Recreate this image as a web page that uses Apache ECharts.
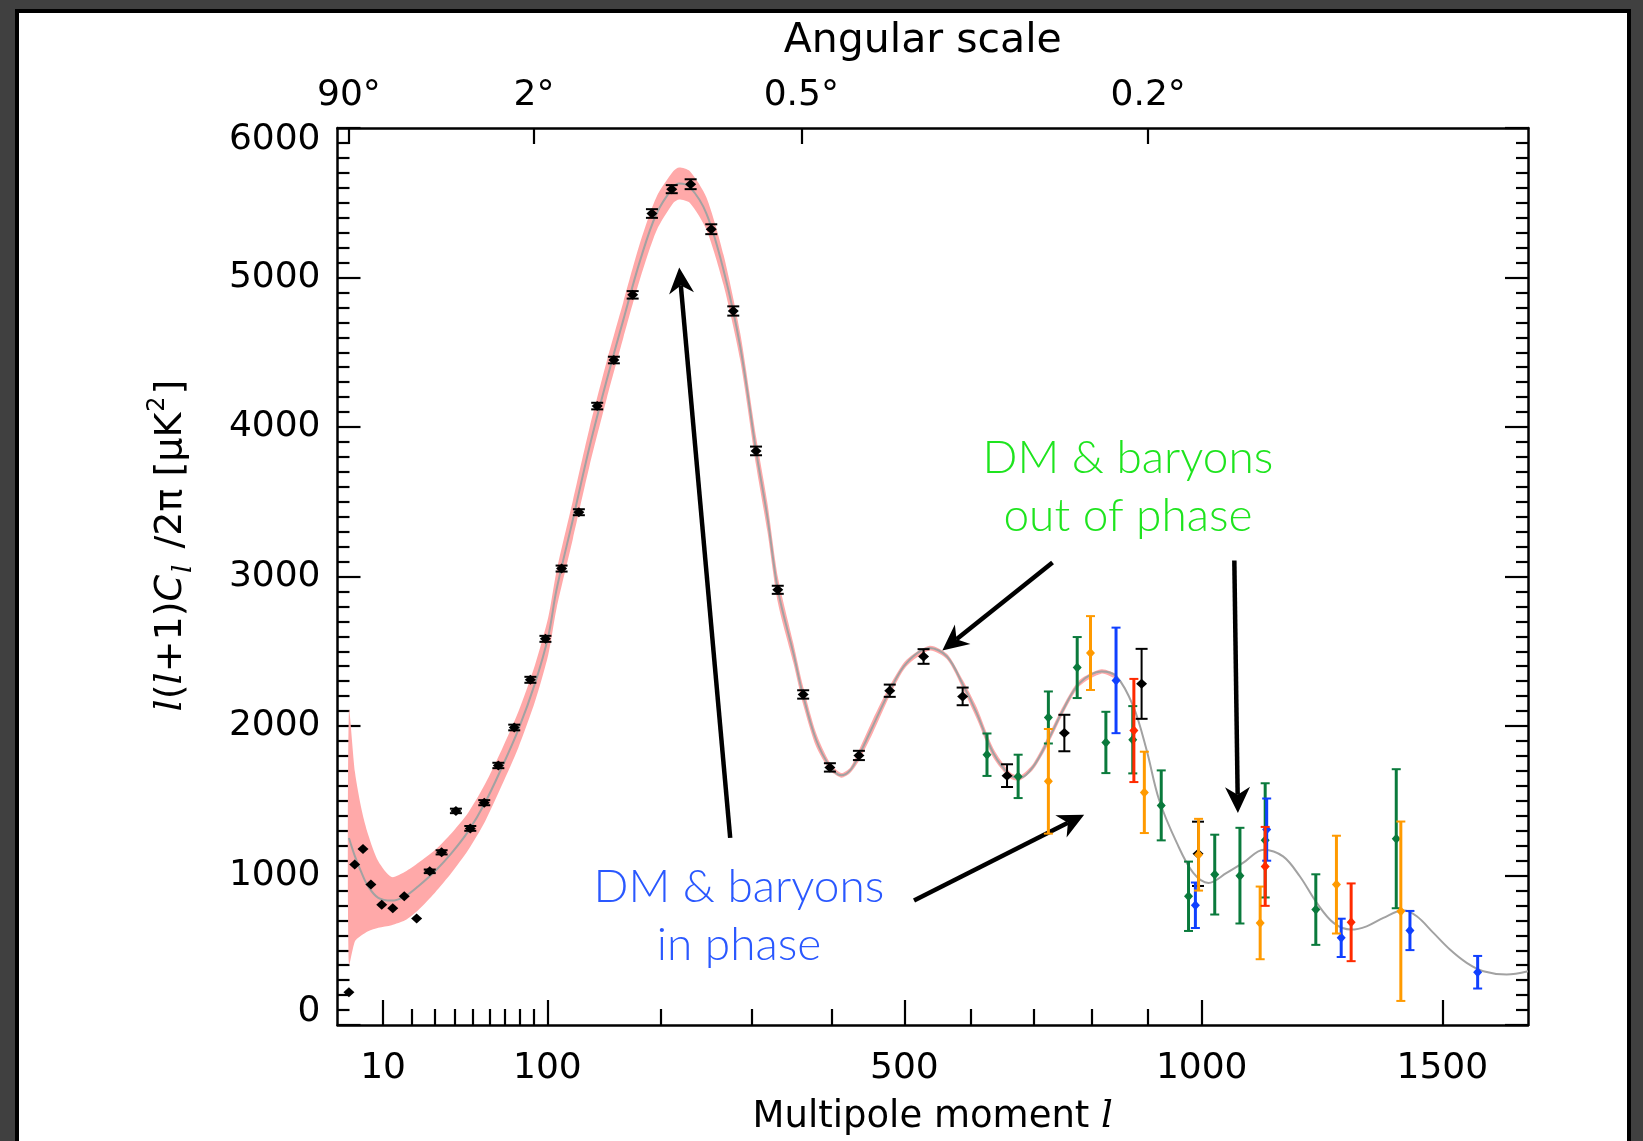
<!DOCTYPE html>
<html>
<head>
<meta charset="utf-8">
<script src="https://cdn.jsdelivr.net/npm/echarts@6/dist/echarts.min.js"></script>
<style>
  html, body { margin: 0; padding: 0; width: 1643px; height: 1141px; overflow: hidden; background: #404040; }
  #frame { position: absolute; left: 15px; top: 9px; width: 1616px; height: 1160px; background: #fff;
           border: 4px solid #000; box-sizing: border-box; }
  #chart { position: absolute; left: 0; top: 0; width: 1643px; height: 1141px; }
</style>
</head>
<body>
<div id="frame"></div>
<div id="chart"></div>
<script>
// Multipole axis is drawn on an l^0.6 stretch: x = l^P
const P = 0.6;
const xs = l => Math.pow(l, P);
const L_MIN = 0.54, L_MAX = 1697;

// Tick marks
const xMajorTicks = [10, 100, 500, 1000, 1500];
const xMinorTicks = [20, 30, 40, 50, 60, 70, 80, 90, 200, 300, 400, 600, 700, 800, 900];
const angleTickL = [2, 90, 360, 900];
const angleTickLabels = ['90°', '2°', '0.5°', '0.2°'];

// Best-fit model spectrum
const modelL = [2, 3.05, 4.4, 5.9, 8.6, 12.7, 17.5, 22.8, 30.2, 38.5, 47.4, 57.2, 67.7, 78.9, 90.8,
  100.6, 107, 120, 134, 149, 164, 180, 196, 213, 219, 230, 248, 267, 286, 305, 318, 331, 350, 362,
  379, 397, 412, 424, 436, 455, 479, 503, 537, 563, 587, 609, 635, 662, 678, 700, 725, 750, 778,
  816, 843, 873, 897, 920, 953, 984, 1013, 1048, 1080, 1121, 1160, 1194, 1229, 1264, 1301, 1334,
  1370, 1413, 1443, 1480, 1517, 1555, 1593, 1647, 1697];
const modelV = [1251, 1128, 1017, 928, 850, 832, 861, 928, 1028, 1151, 1295, 1485, 1719, 1975, 2287,
  2599, 2911, 3378, 3868, 4314, 4715, 5116, 5428, 5606, 5629, 5606, 5428, 5049, 4537, 3824, 3400, 2906, 2488, 2211,
  1908, 1730, 1670, 1703, 1803, 1997, 2236, 2421, 2521, 2465, 2280, 2085, 1819, 1670, 1652, 1730, 1908, 2109, 2287,
  2365, 2331, 2131, 1841, 1507, 1218, 1017, 950, 1017, 1084, 1173, 1128, 995, 817, 683, 638, 660,
  716, 767, 727, 616, 505, 416, 360, 338, 360];

// 1-sigma model band
const bandL = [2, 3.05, 4.4, 5.9, 8.6, 12.7, 17.5, 22.8, 30.2, 38.5, 47.4, 57.2, 67.7, 78.9, 90.8,
  100.6, 107, 120, 134, 149, 164, 180, 196, 213, 219, 230, 248, 267, 286, 305, 318, 331, 350, 362,
  379, 397, 412, 424, 436, 455, 479, 503, 537, 563, 587, 609, 635, 662, 678, 700, 725, 750, 778, 816, 843];
const bandLo = [404, 560, 600, 627, 650, 668, 700, 770, 885, 1020, 1170, 1360, 1600, 1855, 2165,
  2475, 2785, 3250, 3740, 4190, 4595, 4995, 5315, 5500, 5522, 5500, 5320, 4950, 4447, 3729, 3305, 2821, 2423, 2151,
  1863, 1705, 1654, 1685, 1768, 1952, 2203, 2399, 2505, 2447, 2251, 2047, 1787, 1650, 1636, 1710, 1880, 2083, 2267, 2350, 2316];
const bandHi = [2109, 1690, 1440, 1275, 1095, 990, 1025, 1085, 1170, 1285, 1420, 1610, 1840, 2095, 2410,
  2725, 3035, 3505, 3995, 4440, 4835, 5235, 5540, 5712, 5736, 5712, 5535, 5150, 4627, 3919, 3495, 2991, 2553, 2271,
  1953, 1755, 1686, 1721, 1838, 2042, 2269, 2443, 2537, 2483, 2309, 2123, 1851, 1690, 1668, 1750, 1936, 2135, 2307, 2380, 2346];

// WMAP binned spectrum
const wmapL = [2, 3, 4.7, 6.6, 9.6, 13.1, 17.2, 22.1, 27.8, 33.4, 40.7, 48.6, 56.8, 65.6, 76.1, 87.4,
  98.5, 111, 125, 140.6, 155.4, 172.8, 191.4, 211.3, 231, 253.3, 278, 304.5, 330.7, 362.4, 397, 436,
  479, 528, 587, 657, 752, 888, 993];
const wmapV = [219, 1073, 1178, 939, 805, 781, 861, 712, 1028, 1155, 1432, 1315, 1487, 1736, 1990, 2309,
  2583, 3053, 3430, 4140, 4448, 4884, 5428, 5591, 5624, 5323, 4776, 3840, 2911, 2211, 1723, 1803,
  2236, 2465, 2198, 1668, 1953, 2282, 1145];
const wmapErr = [0, 0, 0, 0, 0, 0, 0, 0, 12, 14, 15, 16, 17, 18, 19, 20,
  20, 20, 20, 22, 22, 25, 29, 27, 33, 33, 31, 29, 27, 28, 28, 31,
  41, 49, 59, 76, 122, 234, 215];

// Small-scale experiments
const greenL = [625, 675, 725, 774, 824, 872, 924, 975, 1025, 1074, 1124, 1227, 1398];
const greenV = [1808, 1663, 2057, 2391, 1890, 1908, 1469, 861, 1006, 999, 1235, 772, 1246];
const greenErr = [142, 145, 174, 204, 205, 225, 234, 232, 267, 320, 382, 236, 465];

const blueL = [842, 988, 1127, 1280, 1428, 1580];
const blueV = [2305, 801, 1307, 583, 632, 353];
const blueErr = [353, 152, 208, 128, 131, 109];

const orangeL = [725, 797, 893, 994, 1114, 1270, 1408];
const orangeV = [1630, 2488, 1556, 1139, 683, 939, 761];
const orangeErr = [350, 247, 272, 240, 243, 327, 600];

const redL = [874, 1124, 1301];
const redV = [1970, 1061, 687];
const redErr = [345, 264, 260];

// Annotation arrows (tail -> head)
const arrowFromL = [274.5, 732, 514, 1063];
const arrowFromV = [1252, 3093, 832, 3107];
const arrowToL = [219, 556, 786, 1070];
const arrowToV = [5067, 2505, 1407, 1418];

const FONT = 'DejaVu Sans';
const SERIF = 'DejaVu Serif';
const NOTE_FONT = '300 46px Lato, "Open Sans", sans-serif';

function nearestIndex(arr, v) {
  let best = 0;
  for (let i = 1; i < arr.length; i++) if (Math.abs(arr[i] - v) < Math.abs(arr[best] - v)) best = i;
  return best;
}

function pointsRenderer(o) {
  return function (params, api) {
    const x = api.value(0), v = api.value(1), e = api.value(2);
    const c = api.coord([x, v]);
    const kids = [];
    if (e > 0) {
      const t = api.coord([x, v + e]), b = api.coord([x, v - e]);
      const st = { stroke: o.color, lineWidth: o.barWidth };
      const sc = { stroke: o.color, lineWidth: o.capWidth };
      kids.push({ type: 'line', shape: { x1: c[0], y1: t[1], x2: c[0], y2: b[1] }, style: st });
      kids.push({ type: 'line', shape: { x1: c[0] - o.cap, y1: t[1], x2: c[0] + o.cap, y2: t[1] }, style: sc });
      kids.push({ type: 'line', shape: { x1: c[0] - o.cap, y1: b[1], x2: c[0] + o.cap, y2: b[1] }, style: sc });
    }
    kids.push({ type: 'polygon',
      shape: { points: [[c[0], c[1] - o.dh], [c[0] + o.dw, c[1]], [c[0], c[1] + o.dh], [c[0] - o.dw, c[1]]] },
      style: { fill: o.color } });
    return { type: 'group', children: kids };
  };
}

function pointSeries(L, V, E, o, z) {
  return {
    type: 'custom', z: z, silent: true, clip: false,
    renderItem: pointsRenderer(o),
    encode: { x: 0, y: 1 },
    data: L.map((l, i) => [xs(l), V[i], E[i]])
  };
}

const bandSeries = {
  type: 'custom', z: 1, silent: true,
  encode: { x: 0, y: 1 },
  data: [[xs(bandL[0]), bandLo[0]]],
  renderItem: function (params, api) {
    const pts = [];
    for (let i = 0; i < bandL.length; i++) pts.push(api.coord([xs(bandL[i]), bandHi[i]]));
    for (let i = bandL.length - 1; i >= 0; i--) pts.push(api.coord([xs(bandL[i]), bandLo[i]]));
    return { type: 'polygon', shape: { points: pts, smooth: 0.25 }, style: { fill: '#ffa9a9' } };
  }
};

const arrowSeries = {
  type: 'custom', z: 4, silent: true, clip: false,
  encode: { x: [0, 2], y: [1, 3] },
  data: arrowFromL.map((l, i) => [xs(l), arrowFromV[i], xs(arrowToL[i]), arrowToV[i]]),
  renderItem: function (params, api) {
    const a = api.coord([api.value(0), api.value(1)]);
    const b = api.coord([api.value(2), api.value(3)]);
    const dx = b[0] - a[0], dy = b[1] - a[1];
    const len = Math.sqrt(dx * dx + dy * dy);
    const ux = dx / len, uy = dy / len, px = -uy, py = ux;
    const H = 26, W = 12.5, N = 0.7 * H;
    const back = [b[0] - ux * H, b[1] - uy * H];
    const notch = [b[0] - ux * N, b[1] - uy * N];
    return { type: 'group', children: [
      { type: 'line', shape: { x1: a[0], y1: a[1], x2: notch[0], y2: notch[1] },
        style: { stroke: '#000', lineWidth: 4.5 } },
      { type: 'polygon', shape: { points: [b, [back[0] + px * W, back[1] + py * W], notch,
        [back[0] - px * W, back[1] - py * W]] }, style: { fill: '#000' } }
    ] };
  }
};

const labelStyle = { fontFamily: FONT, fontSize: 36, color: '#000' };

const option = {
  animation: false,
  backgroundColor: 'transparent',
  grid: { left: 337.5, right: 115, top: 128, bottom: 115.5, containLabel: false },
  xAxis: [
    {
      type: 'value', position: 'bottom', min: xs(L_MIN), max: xs(L_MAX),
      axisLine: { show: true, onZero: false, lineStyle: { color: '#000', width: 2.5 } },
      axisTick: { show: true, inside: true, length: 25, customValues: xMajorTicks.map(xs),
        lineStyle: { color: '#000', width: 2.2 } },
      axisLabel: Object.assign({ show: true, margin: 26, customValues: xMajorTicks.map(xs),
        formatter: v => String(xMajorTicks[nearestIndex(xMajorTicks.map(xs), v)]) }, labelStyle),
      splitLine: { show: false },
      name: 'Multipole moment {i|l}', nameLocation: 'middle', nameGap: 74,
      nameTextStyle: { fontFamily: FONT, fontSize: 37, color: '#000',
        rich: { i: { fontFamily: SERIF, fontStyle: 'italic', fontSize: 37, color: '#000' } } }
    },
    {
      type: 'value', position: 'bottom', min: xs(L_MIN), max: xs(L_MAX),
      axisLine: { show: false },
      axisTick: { show: true, inside: true, length: 16, customValues: xMinorTicks.map(xs),
        lineStyle: { color: '#000', width: 2.2 } },
      axisLabel: { show: false }, splitLine: { show: false }
    },
    {
      type: 'value', position: 'top', min: xs(L_MIN), max: xs(L_MAX),
      axisLine: { show: true, onZero: false, lineStyle: { color: '#000', width: 2.5 } },
      axisTick: { show: true, inside: true, length: 16, customValues: angleTickL.map(xs),
        lineStyle: { color: '#000', width: 2.2 } },
      axisLabel: Object.assign({ show: true, margin: 14, customValues: angleTickL.map(xs),
        formatter: v => angleTickLabels[nearestIndex(angleTickL.map(xs), v)] }, labelStyle),
      splitLine: { show: false },
      name: 'Angular scale', nameLocation: 'middle', nameGap: 66,
      nameTextStyle: { fontFamily: FONT, fontSize: 41, color: '#000', padding: [0, 20, 0, 0] }
    }
  ],
  yAxis: [
    {
      type: 'value', position: 'left', min: 0, max: 6000, interval: 1000,
      axisLine: { show: true, onZero: false, lineStyle: { color: '#000', width: 2.5 } },
      axisTick: { show: true, inside: true, length: 23, lineStyle: { color: '#000', width: 2.2 } },
      minorTick: { show: true, splitNumber: 10, length: 12, lineStyle: { color: '#000', width: 2.2 } },
      axisLabel: Object.assign({ margin: 17,
        formatter: v => v === 0 ? '{z|0}' : (v === 6000 ? '{t|6000}' : String(v)),
        rich: {
          z: { fontFamily: FONT, fontSize: 36, color: '#000', padding: [0, 0, 26, 0] },
          t: { fontFamily: FONT, fontSize: 36, color: '#000', padding: [23, 0, 0, 0] }
        } }, labelStyle),
      splitLine: { show: false }, minorSplitLine: { show: false },
      name: '{i|l}({i|l}+1){c|C}{s|l} /2π [μK{p|2}]',
      nameLocation: 'middle', nameGap: 140,
      nameTextStyle: { fontFamily: FONT, fontSize: 38, color: '#000', lineHeight: 52, padding: [0, 0, 0, 62],
        rich: {
          i: { fontFamily: SERIF, fontStyle: 'italic', fontSize: 38, lineHeight: 52, color: '#000' },
          c: { fontFamily: FONT, fontStyle: 'italic', fontSize: 38, lineHeight: 52, color: '#000' },
          s: { fontFamily: SERIF, fontStyle: 'italic', fontSize: 26, lineHeight: 26, padding: [26, 4, 0, 2], color: '#000' },
          p: { fontFamily: FONT, fontSize: 24, lineHeight: 24, padding: [0, 2, 28, 1], color: '#000' }
        } }
    },
    {
      type: 'value', position: 'right', min: 0, max: 6000, interval: 1000,
      axisLine: { show: true, onZero: false, lineStyle: { color: '#000', width: 2.5 } },
      axisTick: { show: true, inside: true, length: 23, lineStyle: { color: '#000', width: 2.2 } },
      minorTick: { show: true, splitNumber: 10, length: 12, lineStyle: { color: '#000', width: 2.2 } },
      axisLabel: { show: false }, splitLine: { show: false }, minorSplitLine: { show: false }
    }
  ],
  graphic: [
    { type: 'text', x: 1128, y: 458, z: 10, style: { text: 'DM & baryons', fill: '#1ee41e',
      font: NOTE_FONT, align: 'center', verticalAlign: 'middle' } },
    { type: 'text', x: 1128, y: 516, z: 10, style: { text: 'out of phase', fill: '#1ee41e',
      font: NOTE_FONT, align: 'center', verticalAlign: 'middle' } },
    { type: 'text', x: 739, y: 887, z: 10, style: { text: 'DM & baryons', fill: '#2a58ff',
      font: NOTE_FONT, align: 'center', verticalAlign: 'middle' } },
    { type: 'text', x: 739, y: 945, z: 10, style: { text: 'in phase', fill: '#2a58ff',
      font: NOTE_FONT, align: 'center', verticalAlign: 'middle' } }
  ],
  series: [
    bandSeries,
    {
      type: 'line', z: 2, silent: true, showSymbol: false, smooth: 0.35,
      data: modelL.map((l, i) => [xs(l), modelV[i]]),
      lineStyle: { color: '#a2a2a2', width: 2 }
    },
    arrowSeries,
    pointSeries(wmapL, wmapV, wmapErr, { color: '#000', barWidth: 2, capWidth: 2, cap: 6, dw: 5.5, dh: 5 }, 4.5),
    pointSeries(greenL, greenV, greenErr, { color: '#0a7a3c', barWidth: 3, capWidth: 2, cap: 4.5, dw: 4.5, dh: 5 }, 5),
    pointSeries(blueL, blueV, blueErr, { color: '#1040ff', barWidth: 3, capWidth: 2, cap: 4.5, dw: 4.5, dh: 5 }, 6),
    pointSeries(orangeL, orangeV, orangeErr, { color: '#ff9a00', barWidth: 3, capWidth: 2, cap: 4.5, dw: 4.5, dh: 5 }, 7),
    pointSeries(redL, redV, redErr, { color: '#ff2a00', barWidth: 3, capWidth: 2, cap: 4.5, dw: 4.5, dh: 5 }, 7)
  ]
};

const chart = echarts.init(document.getElementById('chart'), null, { renderer: 'canvas' });
chart.setOption(option);
</script>
</body>
</html>
